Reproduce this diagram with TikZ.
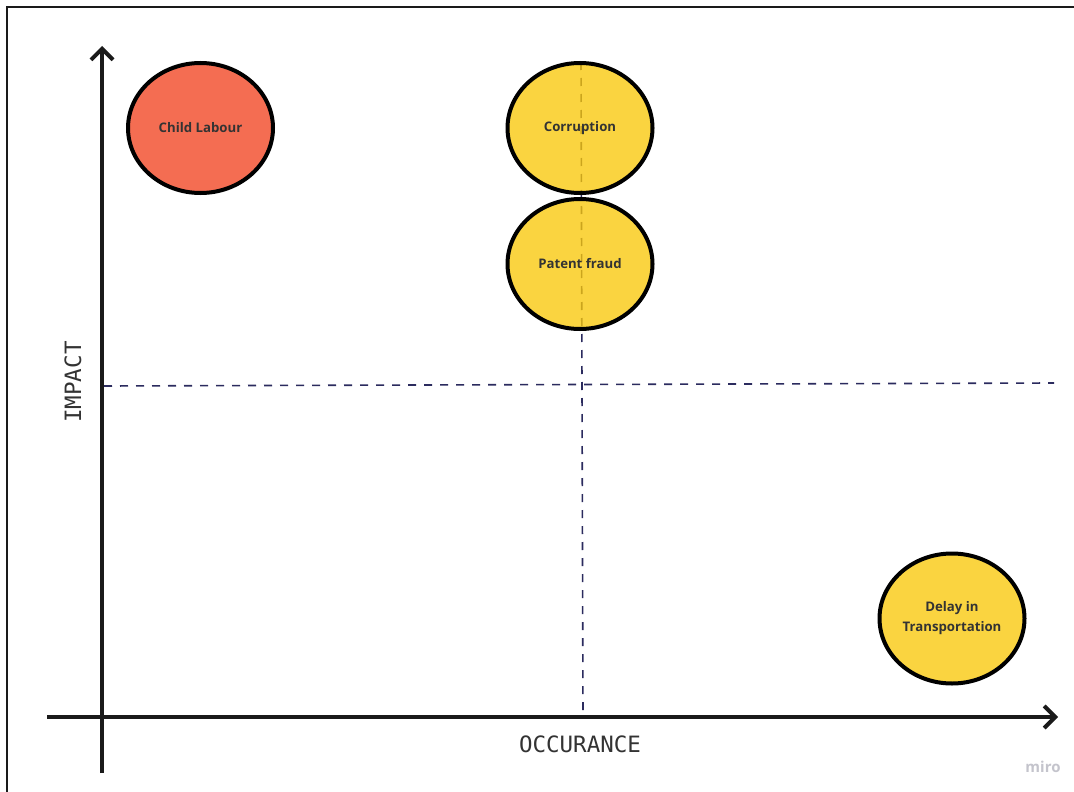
\documentclass[tikz,border=0pt]{standalone}
\usepackage{fontspec}
\setmainfont{Open Sans}
\newfontfamily\axisfont{DejaVu Sans Mono}
\usetikzlibrary{arrows.meta,shapes.geometric}

\definecolor{inkdark}{HTML}{1A1A1A}
\definecolor{guideline}{HTML}{2B2B5E}
\definecolor{riskred}{HTML}{F46D52}
\definecolor{riskyellow}{HTML}{F9C80B}
\definecolor{labeltext}{HTML}{333333}
\definecolor{brandgray}{HTML}{C4C4CC}

\tikzset{
  frameline/.style={draw=inkdark, line width=2pt},
  axisline/.style={draw=inkdark, line width=4pt,
    -{Straight Barb[length=11pt,width=22pt,line width=4pt]}},
  guide/.style={draw=guideline, line width=1.6pt, dash pattern=on 8pt off 8pt},
  risk/.style={ellipse, draw=black, line width=4pt, inner sep=0pt,
    minimum width=145pt, minimum height=130pt, align=center,
    text=labeltext, font=\bfseries\fontsize{13.2}{20}\selectfont},
  riskhigh/.style={risk, fill=riskred},
  riskmid/.style={risk, fill=riskyellow, fill opacity=0.78, text opacity=1},
  axislabel/.style={text=labeltext, font=\axisfont\fontsize{22.5}{25}\selectfont}
}

\begin{document}
\begin{tikzpicture}[x=1pt,y=-1pt]
\useasboundingbox (0,0) rectangle (1074,792);
\fill[white] (0,0) rectangle (1074,792);

% outer frame (top and left edges)
\coordinate (ftl) at (7,7);
\coordinate (ftr) at (1074,7);
\coordinate (fbl) at (7,792);
\draw[frameline] (ftr) -- (ftl) -- (fbl);

% quadrant guides
\coordinate (hgL) at (104,386);
\coordinate (hgR) at (1054,383);
\coordinate (vgT) at (581,62);
\coordinate (vgB) at (583,715);
\draw[guide] (hgL) -- (hgR);
\draw[guide] (vgT) -- (vgB);

% axes
\coordinate (ybot) at (102,773);
\coordinate (ytop) at (102,46);
\coordinate (xleft) at (47,717);
\coordinate (xright) at (1058,717);
\draw[axisline] (ybot) -- (ytop);
\draw[axisline] (xleft) -- (xright);

% risks
\node[riskhigh] (child) at (200.5,128) {Child Labour};
\node[riskmid] (corr) at (580,128) {Corruption};
\node[riskmid] (patent) at (580,264) {Patent fraud};
\node[riskmid] (delay) at (952,618.5) {Delay in\\Transportation};

% axis titles
\node[axislabel, rotate=90] (impact) at (73,382) {IMPACT};
\node[axislabel] (occ) at (580,744) {OCCURANCE};

% brand mark
\node[text=brandgray, font=\bfseries\fontsize{15}{17}\selectfont] (brand) at (1043,767) {miro};
\end{tikzpicture}
\end{document}
